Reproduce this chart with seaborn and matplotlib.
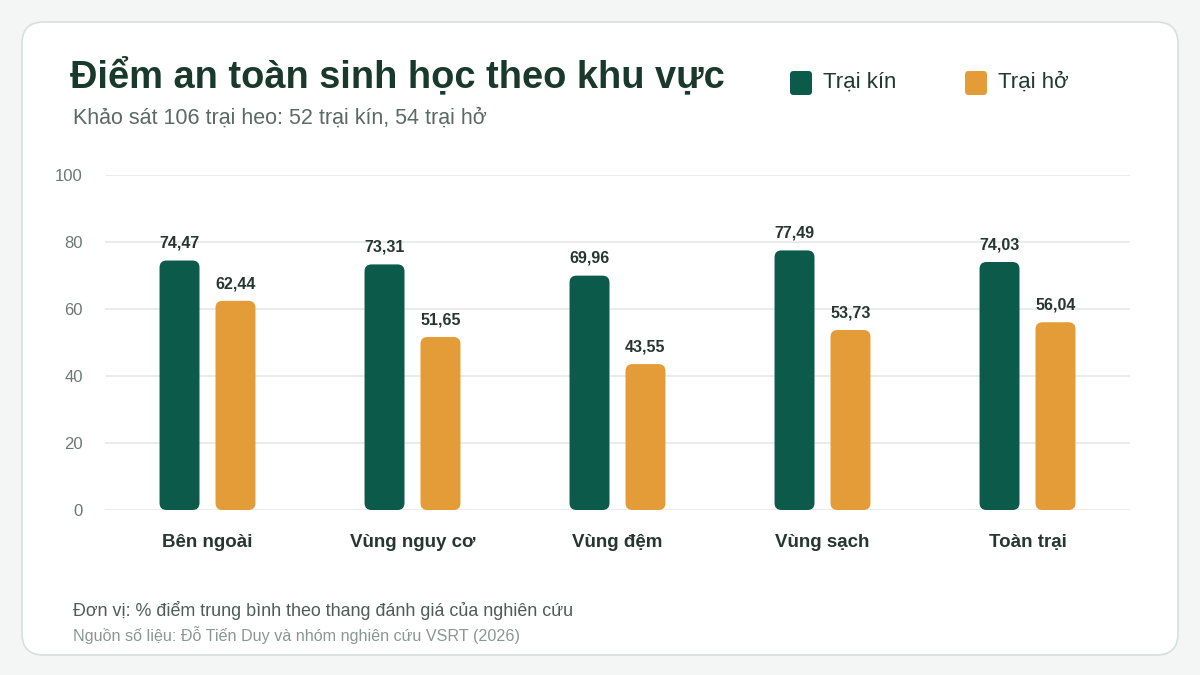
import pandas as pd
import matplotlib
matplotlib.use("Agg")
import matplotlib.pyplot as plt
import seaborn as sns
from matplotlib.patches import FancyBboxPatch

# data
khu_vuc = ["Bên ngoài", "Vùng nguy cơ", "Vùng đệm", "Vùng sạch", "Toàn trại"]
trai_kin = [74.47, 73.31, 69.96, 77.49, 74.03]
trai_ho = [62.44, 51.65, 43.55, 53.73, 56.04]
nhom = ["Trại kín", "Trại hở"]
y_ticks = [0, 20, 40, 60, 80, 100]

GREEN = "#0b5a4a"
ORANGE = "#e39c38"

df = pd.DataFrame({
    "khu_vuc": khu_vuc * 2,
    "diem": trai_kin + trai_ho,
    "nhom": [nhom[0]] * len(khu_vuc) + [nhom[1]] * len(khu_vuc),
})

sns.set_theme(style="white")
plt.rcParams["font.family"] = ["Liberation Sans", "DejaVu Sans"]

fig = plt.figure(figsize=(12, 6.75), dpi=100)
fig.patch.set_facecolor("#f4f6f5")

# white card behind everything
card = FancyBboxPatch((22 / 1200, 1 - 655 / 675), 1156 / 1200, 633 / 675,
                      boxstyle="round,pad=0,rounding_size=0.018",
                      transform=fig.transFigure, facecolor="white",
                      edgecolor="#d6dfdc", linewidth=1.2,
                      mutation_aspect=1200 / 675, zorder=-5)
fig.patches.append(card)

ax = fig.add_axes([105 / 1200, 1 - 510 / 675, 1025 / 1200, 335 / 675])
ax.set_facecolor("none")

sns.barplot(data=df, x="khu_vuc", y="diem", hue="nhom", order=khu_vuc,
            hue_order=nhom, palette=[GREEN, ORANGE], saturation=1,
            width=0.546, gap=0.286, ax=ax, legend=False, zorder=3)

ax.set_xlim(-0.5, len(khu_vuc) - 0.5)
ax.set_ylim(0, 100)

# swap plain bars for rounded ones
px_x = 1025 / len(khu_vuc)
px_y = 335 / 100
r = 7 / px_x
bars = list(ax.patches)
for p in bars:
    x0, w, h = p.get_x(), p.get_width(), p.get_height()
    fc = p.get_facecolor()
    p.remove()
    rb = FancyBboxPatch((x0, 0), w, h,
                        boxstyle=f"round,pad=0,rounding_size={r}",
                        mutation_aspect=px_x / px_y, facecolor=fc,
                        edgecolor="none", zorder=3)
    ax.add_patch(rb)
    ax.annotate(f"{h:.2f}".replace(".", ","), (x0 + w / 2, h),
                xytext=(0, 7), textcoords="offset points", ha="center",
                va="bottom", fontsize=11.5, fontweight="bold", color="#263631")

ax.set_yticks(y_ticks)
ax.yaxis.grid(True, color="#e5e9e8", linewidth=1.2, zorder=0)
ax.set_axisbelow(True)
for s in ax.spines.values():
    s.set_visible(False)
ax.tick_params(axis="y", length=0, pad=16, labelsize=12, labelcolor="#6b7873")
ax.tick_params(axis="x", length=0, pad=17, labelsize=13.5, labelcolor="#263631")
for lab in ax.get_xticklabels():
    lab.set_fontweight("bold")
ax.set_xlabel("")
ax.set_ylabel("")

# titles
fig.text(70 / 1200, 1 - 76 / 675, "Điểm an toàn sinh học theo khu vực",
         fontsize=27.4, fontweight="bold", color="#1a392d", va="center")
fig.text(73 / 1200, 1 - 118 / 675, "Khảo sát 106 trại heo: 52 trại kín, 54 trại hở",
         fontsize=15.5, color="#5b6a65", va="center")

# legend
for i, (name, col) in enumerate(zip(nhom, [GREEN, ORANGE])):
    x = (790 + i * 175) / 1200
    sq = FancyBboxPatch((x, 1 - 95 / 675), 22 / 1200, 24 / 675,
                        boxstyle="round,pad=0,rounding_size=0.003",
                        transform=fig.transFigure, facecolor=col,
                        edgecolor="none", mutation_aspect=1200 / 675)
    fig.patches.append(sq)
    fig.text(x + 33 / 1200, 1 - 82 / 675, name, fontsize=16,
             color="#1f3a30", va="center")

# footnotes
fig.text(73 / 1200, 1 - 611 / 675,
         "Đơn vị: % điểm trung bình theo thang đánh giá của nghiên cứu",
         fontsize=12.9, color="#4e5d58", va="center")
fig.text(73 / 1200, 1 - 635 / 675,
         "Nguồn số liệu: Đỗ Tiến Duy và nhóm nghiên cứu VSRT (2026)",
         fontsize=11.6, color="#8a9692", va="center")

fig.savefig("out.png", dpi=100, facecolor=fig.get_facecolor())
